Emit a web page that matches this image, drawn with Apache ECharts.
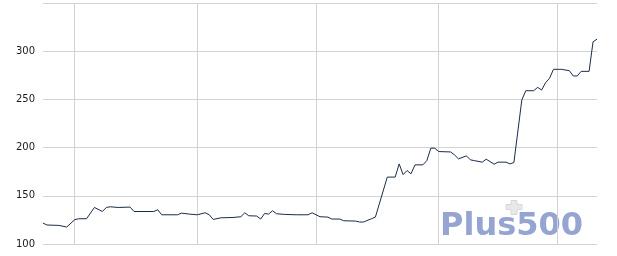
<!DOCTYPE html>
<html>
<head>
<meta charset="utf-8">
<script src="https://cdn.jsdelivr.net/npm/echarts@6/dist/echarts.min.js"></script>
<style>
html,body{margin:0;padding:0;background:#fff;}
#c{width:617px;height:256px;}
</style>
</head>
<body>
<div id="c"></div>
<script>
var dates = [
  '2023-02-21','2023-02-22','2023-02-25','2023-02-27',
  '2023-03-01','2023-03-02','2023-03-04','2023-03-06','2023-03-08','2023-03-09','2023-03-10','2023-03-12',
  '2023-03-15','2023-03-16','2023-03-21','2023-03-22','2023-03-23','2023-03-27','2023-03-28','2023-03-30',
  '2023-04-01','2023-04-03','2023-04-04','2023-04-05','2023-04-07','2023-04-10','2023-04-12','2023-04-13',
  '2023-04-14','2023-04-16','2023-04-17','2023-04-18','2023-04-19','2023-04-20','2023-04-21','2023-04-23',
  '2023-04-26','2023-04-29','2023-04-30',
  '2023-05-02','2023-05-04','2023-05-05','2023-05-07','2023-05-08','2023-05-11','2023-05-12','2023-05-13',
  '2023-05-15','2023-05-16','2023-05-19','2023-05-21','2023-05-22','2023-05-23','2023-05-24','2023-05-25',
  '2023-05-26','2023-05-28','2023-05-29','2023-05-30','2023-05-31',
  '2023-06-01','2023-06-04','2023-06-05','2023-06-06','2023-06-08','2023-06-09','2023-06-10','2023-06-12',
  '2023-06-13','2023-06-15','2023-06-16','2023-06-18','2023-06-19','2023-06-20','2023-06-22','2023-06-23',
  '2023-06-25','2023-06-26','2023-06-27','2023-06-28','2023-06-29','2023-06-30',
  '2023-07-02','2023-07-04','2023-07-05','2023-07-06','2023-07-07','2023-07-09','2023-07-10','2023-07-11'
];
var prices = [
  121.7,119.7,119.3,117.6,
  125.2,126.2,126.2,137.9,133.7,137.9,138.6,137.9,
  138.3,133.7,133.7,135.5,130.3,130.3,132.0,131.0,
  130.3,132.4,130.3,125.5,127.2,127.5,128.3,132.4,
  129.3,129.0,125.9,131.7,131.0,134.5,131.4,130.7,
  130.3,130.3,132.4,
  128.3,127.9,125.9,125.9,124.1,123.8,122.8,122.8,
  126.2,127.9,169.4,169.4,183.1,172.0,176.2,172.8,
  182.1,182.1,186.5,199.4,199.4,
  195.9,195.5,192.4,188.3,191.4,187.3,186.5,184.9,
  188.0,182.8,184.9,184.9,183.1,184.5,249.4,259.0,
  259.0,262.5,259.7,267.3,271.8,281.2,
  281.2,279.8,274.3,274.3,279.1,279.1,309.7,312.5
];
var monthStarts = ['2023-03-01', '2023-04-01', '2023-05-01', '2023-06-01', '2023-07-01'];
var yTicks = [100, 150, 200, 250, 300, 350];
var xRange = ['2023-02-21', '2023-07-11'];

var chart = echarts.init(document.getElementById('c'), null, {renderer: 'canvas'});
var seriesData = dates.map(function (d, i) { return [d, prices[i]]; });
var gridColor = '#d3d3d3';

chart.setOption({
  animation: false,
  backgroundColor: '#ffffff',
  grid: {left: 43, right: 20, top: 3, height: 241, containLabel: false},
  xAxis: {
    type: 'time',
    min: xRange[0],
    max: xRange[1],
    axisLine: {show: false},
    axisTick: {show: false},
    axisLabel: {show: false},
    splitLine: {show: false}
  },
  yAxis: {
    type: 'value',
    min: yTicks[0],
    max: yTicks[yTicks.length - 1],
    interval: yTicks[1] - yTicks[0],
    axisLine: {show: false},
    axisTick: {show: false},
    axisLabel: {
      color: '#1a1a1a',
      fontFamily: 'DejaVu Sans',
      fontSize: 10,
      margin: 8,
      showMaxLabel: false
    },
    splitLine: {show: true, lineStyle: {color: gridColor, width: 1}}
  },
  graphic: [
    {
      type: 'group',
      left: 440,
      top: 200,
      z: 1,
      children: [
        {
          type: 'text',
          x: 0,
          y: 10,
          style: {
            text: 'Plus500',
            font: 'bold 32px "DejaVu Sans"',
            fill: '#7a8dc4',
            opacity: 0.8
          },
          z: 1
        },
        {
          type: 'polygon',
          shape: {points: [[5,0],[11,0],[11,4],[16,4],[16,9],[11,9],[11,14],[5,14],[5,9],[0,9],[0,4],[5,4]]},
          position: [66, 0],
          style: {fill: '#e8e8e8', stroke: '#d8d8d8', lineWidth: 1},
          z: 2
        }
      ]
    }
  ],
  series: [
    {
      type: 'line',
      data: [],
      silent: true,
      z: 1,
      markLine: {
        silent: true,
        symbol: ['none', 'none'],
        label: {show: false},
        lineStyle: {color: gridColor, width: 1, type: 'solid'},
        emphasis: {disabled: true},
        animation: false,
        data: monthStarts.map(function (d) { return {xAxis: d}; })
      }
    },
    {
      type: 'line',
      data: seriesData,
      showSymbol: false,
      symbol: 'none',
      lineStyle: {color: '#1c2b4b', width: 1},
      z: 5
    }
  ]
});
</script>
</body>
</html>
